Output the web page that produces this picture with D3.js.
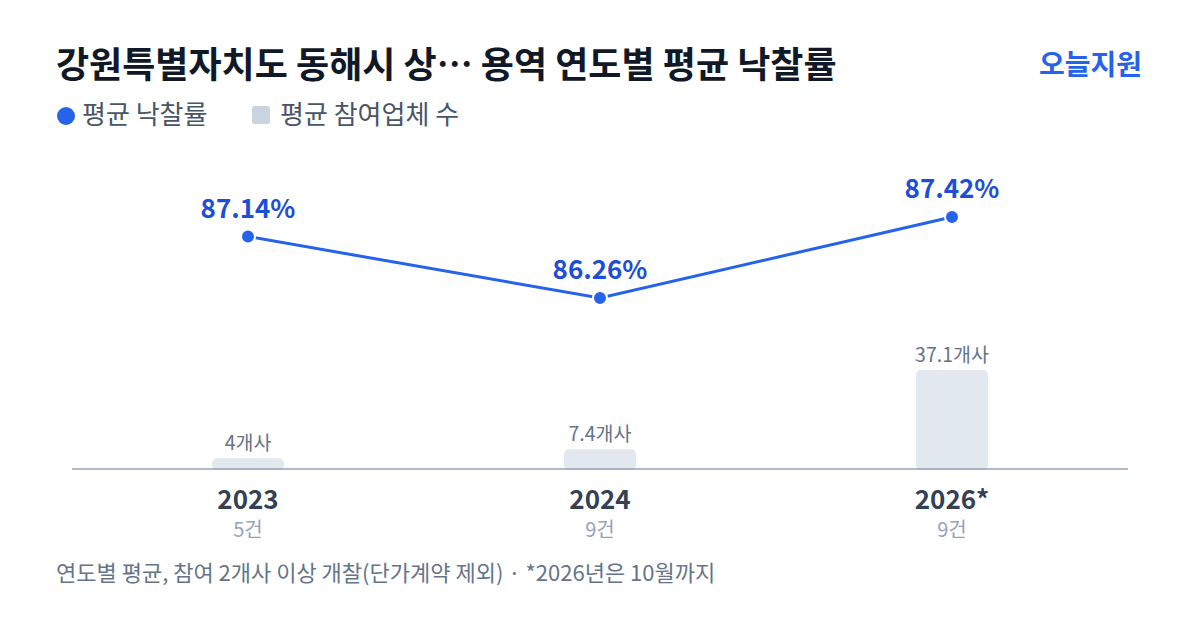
<!DOCTYPE html>
<html>
<head>
<meta charset="utf-8">
<script src="https://cdn.jsdelivr.net/npm/d3@7"></script>
<style>
  body { margin: 0; background: #fff; }
  svg text { font-family: "Noto Sans CJK KR", "Noto Sans", sans-serif; }
</style>
</head>
<body>
<div id="chart"></div>
<script>
const years = ["2023", "2024", "2026*"];
const rates = [87.14, 86.26, 87.42];
const bidders = [4, 7.4, 37.1];
const bidderLabels = ["4개사", "7.4개사", "37.1개사"];
const counts = ["5건", "9건", "9건"];

const W = 1200, H = 630;
const svg = d3.select("#chart").append("svg")
    .attr("width", W)
    .attr("height", H);

// title
svg.append("text")
    .attr("x", 56).attr("y", 78)
    .attr("font-size", 36).attr("font-weight", 700)
    .attr("fill", "#111827")
    .text("강원특별자치도 동해시 상… 용역 연도별 평균 낙찰률");

svg.append("text")
    .attr("x", 1142).attr("y", 75)
    .attr("text-anchor", "end")
    .attr("font-size", 28).attr("font-weight", 700)
    .attr("fill", "#2563eb")
    .text("오늘지원");

// legend
svg.append("circle").attr("cx", 66).attr("cy", 116).attr("r", 9).attr("fill", "#2563eb");
svg.append("text").attr("x", 82).attr("y", 124)
    .attr("font-size", 26).attr("fill", "#475569").text("평균 낙찰률");
svg.append("rect").attr("x", 252).attr("y", 106).attr("width", 18).attr("height", 18)
    .attr("rx", 2).attr("fill", "#cbd5e1");
svg.append("text").attr("x", 280).attr("y", 124)
    .attr("font-size", 26).attr("fill", "#475569").text("평균 참여업체 수");

// scales
const x = d3.scalePoint().domain(years).range([248, 952]);
const y = d3.scaleLinear().domain([86.26, 87.42]).range([298, 217]);
const baseY = 469;
const yb = d3.scaleLinear().domain([0, 37.1]).range([baseY, 370]);
const barW = 72;

// bars
const bars = svg.append("g");
years.forEach((yr, i) => {
    const top = yb(bidders[i]);
    bars.append("rect")
        .attr("x", x(yr) - barW / 2)
        .attr("y", top)
        .attr("width", barW)
        .attr("height", baseY - top + 1)
        .attr("rx", 5)
        .attr("fill", "#e2e8f0");
    bars.append("text")
        .attr("x", x(yr)).attr("y", top - 8)
        .attr("text-anchor", "middle")
        .attr("font-size", 19.5).attr("fill", "#64748b")
        .text(bidderLabels[i]);
});

// baseline axis
svg.append("line")
    .attr("x1", 72).attr("x2", 1128)
    .attr("y1", baseY).attr("y2", baseY)
    .attr("stroke", "#94a3b8").attr("stroke-width", 1.5);

// x labels
years.forEach((yr, i) => {
    svg.append("text")
        .attr("x", x(yr)).attr("y", 509)
        .attr("text-anchor", "middle")
        .attr("font-size", 26).attr("font-weight", 700)
        .attr("fill", "#334155")
        .text(yr);
    svg.append("text")
        .attr("x", x(yr)).attr("y", 537)
        .attr("text-anchor", "middle")
        .attr("font-size", 20).attr("fill", "#94a3b8")
        .text(counts[i]);
});

// line
const line = d3.line()
    .x((d, i) => x(years[i]))
    .y(d => y(d));
svg.append("path")
    .datum(rates)
    .attr("d", line)
    .attr("fill", "none")
    .attr("stroke", "#2563eb")
    .attr("stroke-width", 3);

svg.selectAll(".dot")
    .data(rates)
    .enter()
    .append("circle")
    .attr("cx", (d, i) => x(years[i]))
    .attr("cy", d => y(d))
    .attr("r", 7)
    .attr("fill", "#2563eb")
    .attr("stroke", "#fff")
    .attr("stroke-width", 2);

svg.selectAll(".val")
    .data(rates)
    .enter()
    .append("text")
    .attr("x", (d, i) => x(years[i]))
    .attr("y", d => y(d) - 19)
    .attr("text-anchor", "middle")
    .attr("font-size", 26).attr("font-weight", 700)
    .attr("fill", "#1d4ed8")
    .text(d => d.toFixed(2) + "%");

// footnote
svg.append("text")
    .attr("x", 56).attr("y", 581)
    .attr("font-size", 22).attr("fill", "#64748b")
    .text("연도별 평균, 참여 2개사 이상 개찰(단가계약 제외) · *2026년은 10월까지");
</script>
</body>
</html>
